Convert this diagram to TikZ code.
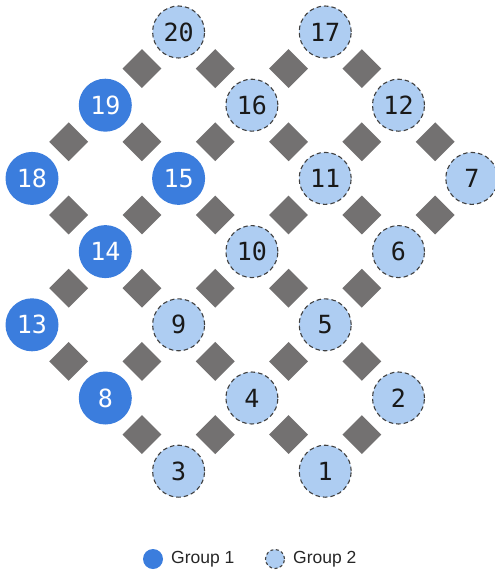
\documentclass[tikz,border=0pt]{standalone}
\usepackage{fontspec}
\setmainfont{Liberation Sans}
\newfontfamily\numfont{DejaVu Sans Mono}
\usetikzlibrary{shapes.geometric}
\definecolor{gone}{HTML}{3B7DDD}
\definecolor{gtwo}{HTML}{AECDF2}
\definecolor{edgegray}{HTML}{737171}
\definecolor{dashgray}{HTML}{404040}
\tikzset{
  gA/.style={circle,fill=gone,minimum size=53pt,inner sep=0pt,text=white,font=\numfont\fontsize{25}{25}\selectfont},
  gB/.style={circle,fill=gtwo,draw=dashgray,line width=1.1pt,dash pattern=on 4.5pt off 3pt,minimum size=52pt,inner sep=0pt,text=black!90,font=\numfont\fontsize{25}{25}\selectfont},
  dmark/.style={diamond,fill=edgegray,minimum size=39pt,inner sep=0pt,draw=none},
  link/.style={draw=none},
  legtext/.style={anchor=west,inner sep=0pt,font=\fontsize{17.5}{17.5}\selectfont,text=black!85}
}
\begin{document}
\begin{tikzpicture}[x=1pt,y=-1pt]
\useasboundingbox (0,0) rectangle (495,573);
\def\X#1{32+73.3*#1}
\def\Y#1{32+73.2*#1}
\node[gB] (n20) at ({\X2},{\Y0}) {20};
\node[gB] (n17) at ({\X4},{\Y0}) {17};
\node[gA] (n19) at ({\X1},{\Y1}) {19};
\node[gB] (n16) at ({\X3},{\Y1}) {16};
\node[gB] (n12) at ({\X5},{\Y1}) {12};
\node[gA] (n18) at ({\X0},{\Y2}) {18};
\node[gA] (n15) at ({\X2},{\Y2}) {15};
\node[gB] (n11) at ({\X4},{\Y2}) {11};
\node[gB] (n7) at ({\X6},{\Y2}) {7};
\node[gA] (n14) at ({\X1},{\Y3}) {14};
\node[gB] (n10) at ({\X3},{\Y3}) {10};
\node[gB] (n6) at ({\X5},{\Y3}) {6};
\node[gA] (n13) at ({\X0},{\Y4}) {13};
\node[gB] (n9) at ({\X2},{\Y4}) {9};
\node[gB] (n5) at ({\X4},{\Y4}) {5};
\node[gA] (n8) at ({\X1},{\Y5}) {8};
\node[gB] (n4) at ({\X3},{\Y5}) {4};
\node[gB] (n2) at ({\X5},{\Y5}) {2};
\node[gB] (n3) at ({\X2},{\Y6}) {3};
\node[gB] (n1) at ({\X4},{\Y6}) {1};
\foreach \a/\b in {20/19,20/16,17/16,17/12,19/18,19/15,16/15,16/11,12/11,12/7,
  18/14,15/14,15/10,11/10,11/6,7/6,14/13,14/9,10/9,10/5,6/5,
  13/8,9/8,9/4,5/4,5/2,8/3,4/3,4/1,2/1}
  \path[link] (n\a.center) -- node[dmark]{} (n\b.center);
% legend
\node[circle,fill=gone,minimum size=20pt,inner sep=0pt] (l1) at (153,559) {};
\node[legtext] (t1) at (171,559.5) {Group 1};
\node[circle,fill=gtwo,draw=dashgray,line width=1.1pt,dash pattern=on 3pt off 2.5pt,minimum size=19pt,inner sep=0pt] (l2) at (275,559) {};
\node[legtext] (t2) at (293,559.5) {Group 2};
\end{tikzpicture}
\end{document}
